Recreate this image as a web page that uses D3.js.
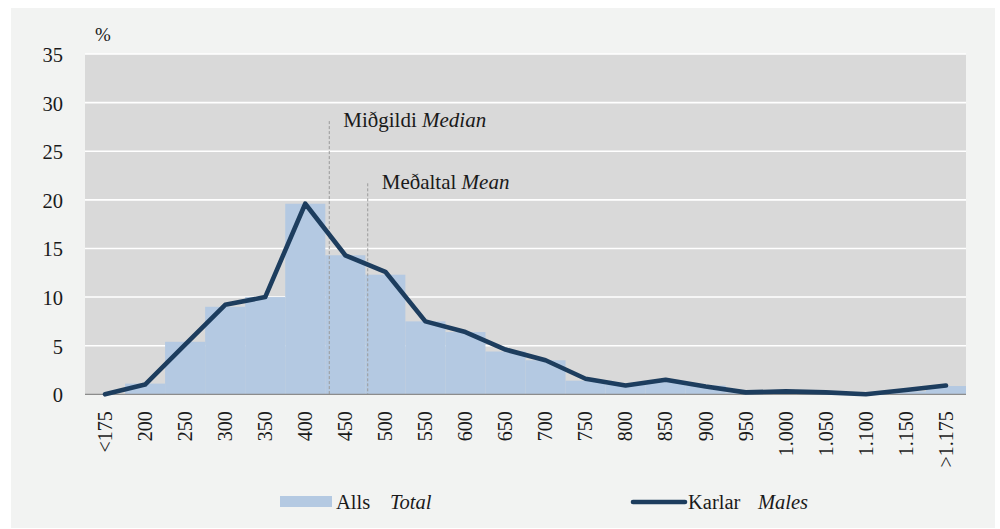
<!DOCTYPE html>
<html>
<head>
<meta charset="utf-8">
<script src="https://cdn.jsdelivr.net/npm/d3@7"></script>
<style>
  html, body { margin: 0; padding: 0; background: #ffffff; }
  svg { display: block; }
</style>
</head>
<body>
<svg id="chart" width="1000" height="529"></svg>
<script>
// ---- data ----
const categories = ["<175","200","250","300","350","400","450","500","550","600","650","700","750","800","850","900","950","1.000","1.050","1.100","1.150",">1.175"];
const totalValues = [0.0, 1.1, 5.4, 9.0, 10.0, 19.6, 14.3, 12.3, 7.5, 6.4, 4.4, 3.5, 1.4, 1.0, 1.3, 0.9, 0.2, 0.3, 0.2, 0.1, 0.3, 0.85];
const malesValues = [0.0, 1.0, 5.1, 9.2, 10.0, 19.6, 14.3, 12.6, 7.5, 6.4, 4.6, 3.5, 1.6, 0.9, 1.5, 0.8, 0.2, 0.3, 0.2, 0.0, 0.45, 0.9];
const yTicks = [0, 5, 10, 15, 20, 25, 30, 35];
const seriesNames = [["Alls", "Total"], ["Karlar", "Males"]];
const medianValue = 430, meanValue = 478;     // thousand ISK
const medianLabel = ["Miðgildi ", "Median"];
const meanLabel = ["Meðaltal ", "Mean"];
const medianTop = 28.1, meanTop = 21.7;        // % height of annotation lines
const unitLabel = "%";

const FONT = '"Liberation Serif", "Times New Roman", Tinos, serif';

// ---- layout ----
const svg = d3.select("#chart").style("font-family", FONT);
const plot = { left: 85, right: 966, top: 54, bottom: 394.3 };
const colBar = "#b4c9e2", colLine = "#1d3d5e", colPlotBg = "#d9d9d9", colPanel = "#f2f3f2", colText = "#1a1a1a";

svg.append("rect").attr("x", 11).attr("y", 8).attr("width", 984).attr("height", 520).attr("fill", colPanel);

const x = d3.scaleBand().domain(categories).range([plot.left, plot.right]).padding(0);
const y = d3.scaleLinear().domain([0, 35]).range([plot.bottom, plot.top]);
const bw = x.bandwidth();
const xv = d3.scaleLinear().domain([200, 1150]).range([x("200") + bw / 2, x("1.150") + bw / 2]);

svg.append("rect").attr("x", plot.left).attr("y", plot.top)
  .attr("width", plot.right - plot.left).attr("height", plot.bottom - plot.top).attr("fill", colPlotBg);

svg.append("g").selectAll("line").data(yTicks.filter(d => d > 0)).join("line")
  .attr("x1", plot.left).attr("x2", plot.right)
  .attr("y1", d => y(d)).attr("y2", d => y(d))
  .attr("stroke", "#ffffff").attr("stroke-width", 1.6);

svg.append("g").selectAll("rect").data(totalValues).join("rect")
  .attr("x", (d, i) => x(categories[i]))
  .attr("width", bw)
  .attr("y", d => y(d))
  .attr("height", d => y(0) - y(d))
  .attr("fill", colBar);

function annot(val, top, label) {
  const xx = xv(val);
  svg.append("line").attr("x1", xx).attr("x2", xx).attr("y1", y(top)).attr("y2", y(0))
    .attr("stroke", "#9a9a9a").attr("stroke-width", 1).attr("stroke-dasharray", "3,2");
  const t = svg.append("text").attr("x", xx + 14).attr("y", y(top) + 5.5)
    .attr("font-size", 21).attr("font-family", FONT).attr("fill", colText);
  t.append("tspan").text(label[0]);
  t.append("tspan").attr("font-style", "italic").text(label[1]);
}
annot(medianValue, medianTop, medianLabel);
annot(meanValue, meanTop, meanLabel);

svg.append("line").attr("x1", plot.left).attr("x2", plot.right).attr("y1", y(0)).attr("y2", y(0))
  .attr("stroke", "#8c8c8c").attr("stroke-width", 1.2);

const line = d3.line().x((d, i) => x(categories[i]) + bw / 2).y(d => y(d));
svg.append("path").datum(malesValues).attr("d", line)
  .attr("fill", "none").attr("stroke", colLine).attr("stroke-width", 4.6)
  .attr("stroke-linejoin", "round").attr("stroke-linecap", "round");

const yAxis = d3.axisLeft(y).tickValues(yTicks).tickSize(0).tickPadding(0);
const gy = svg.append("g").attr("transform", `translate(${63},0)`).call(yAxis)
  .attr("font-family", FONT).attr("font-size", 20.5);
gy.select(".domain").remove();
gy.selectAll("text").attr("fill", colText).attr("dy", "0.36em");

svg.append("text").attr("x", 95).attr("y", 41).attr("font-size", 19)
  .attr("font-family", FONT).attr("fill", colText).text(unitLabel);

const xAxis = d3.axisBottom(x).tickSize(0).tickPadding(0);
const gx = svg.append("g").attr("transform", `translate(0,${y(0)})`).call(xAxis)
  .attr("font-family", FONT).attr("font-size", 20);
gx.select(".domain").remove();
gx.selectAll("text")
  .attr("fill", colText)
  .attr("text-anchor", "end")
  .attr("transform", "rotate(-90)")
  .attr("x", -17).attr("y", 0).attr("dy", "0.34em");

const lg = svg.append("g").attr("font-family", FONT).attr("font-size", 20.5).attr("fill", colText);
lg.append("rect").attr("x", 280).attr("y", 496).attr("width", 52).attr("height", 11).attr("fill", colBar);
const t1 = lg.append("text").attr("x", 336).attr("y", 509);
t1.append("tspan").text(seriesNames[0][0]);
t1.append("tspan").attr("x", 390).attr("font-style", "italic").text(seriesNames[0][1]);
lg.append("line").attr("x1", 633).attr("x2", 685).attr("y1", 502).attr("y2", 502)
  .attr("stroke", colLine).attr("stroke-width", 4.6).attr("stroke-linecap", "round");
const t2 = lg.append("text").attr("x", 688).attr("y", 509);
t2.append("tspan").text(seriesNames[1][0]);
t2.append("tspan").attr("x", 758).attr("font-style", "italic").text(seriesNames[1][1]);
</script>
</body>
</html>
